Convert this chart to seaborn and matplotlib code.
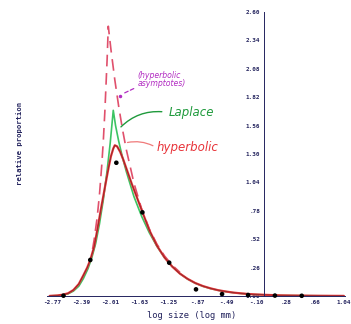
import matplotlib
matplotlib.use("Agg")
import matplotlib.pyplot as plt
from matplotlib.ticker import MultipleLocator
import pandas as pd
import seaborn as sns

# Observed relative proportions per log-size class
obs_x = [-2.62, -2.27, -1.93, -1.59, -1.24, -0.89, -0.55, -0.21, 0.14, 0.49]
obs_y = [0.003, 0.33, 1.22, 0.766, 0.305, 0.061, 0.018, 0.009, 0.004, 0.002]

# Fitted hyperbolic density
hyp_x = [-2.80, -2.70, -2.63, -2.56, -2.49, -2.42, -2.36, -2.31, -2.27, -2.22,
         -2.18, -2.13, -2.07, -2.03, -2.00, -1.97, -1.95, -1.92, -1.88, -1.84,
         -1.78, -1.73, -1.66, -1.59, -1.50, -1.40, -1.30, -1.20, -1.10, -1.00,
         -0.90, -0.80, -0.70, -0.60, -0.50, -0.40, -0.30, -0.20, -0.10, 0.00,
         0.20, 0.40, 0.70, 1.04]
hyp_y = [0.001, 0.005, 0.012, 0.025, 0.055, 0.11, 0.19, 0.26, 0.33, 0.45,
         0.60, 0.80, 1.03, 1.18, 1.28, 1.35, 1.38, 1.37, 1.32, 1.25,
         1.13, 1.03, 0.90, 0.77, 0.604, 0.461, 0.352, 0.269, 0.205, 0.157,
         0.119, 0.091, 0.070, 0.053, 0.041, 0.031, 0.024, 0.018, 0.014, 0.011,
         0.006, 0.004, 0.002, 0.001]

# Fitted Laplace density
lap_x = [-2.80, -2.70, -2.63, -2.56, -2.49, -2.42, -2.36, -2.30, -2.25, -2.20,
         -2.15, -2.10, -2.05, -2.01, -1.97, -1.94, -1.90, -1.85, -1.80, -1.70,
         -1.60, -1.50, -1.40, -1.30, -1.20, -1.10, -1.00, -0.90, -0.80, -0.70,
         -0.60, -0.50, -0.40, -0.30, -0.20, 0.00, 0.30, 0.60, 1.04]
lap_y = [0.001, 0.004, 0.009, 0.02, 0.045, 0.09, 0.16, 0.25, 0.35, 0.48,
         0.66, 0.88, 1.15, 1.40, 1.70, 1.56, 1.42, 1.27, 1.14, 0.91,
         0.73, 0.58, 0.455, 0.35, 0.27, 0.205, 0.155, 0.117, 0.089, 0.068,
         0.052, 0.04, 0.03, 0.023, 0.017, 0.01, 0.005, 0.0025, 0.001]

# Asymptotes of the hyperbolic log-density
asy_x = [-2.24, -2.22, -2.18, -2.15, -2.12, -2.10, -2.08, -2.05, -2.035, -2.00,
         -1.95, -1.90, -1.85, -1.80, -1.70, -1.60, -1.50, -1.40, -1.30, -1.20,
         -1.10]
asy_y = [0.43, 0.513, 0.72, 0.929, 1.20, 1.42, 1.685, 2.17, 2.47, 2.255,
         1.98, 1.74, 1.527, 1.341, 1.034, 0.797, 0.615, 0.474, 0.366, 0.282,
         0.217]

x_ticks = [-2.77, -2.39, -2.01, -1.63, -1.25, -0.87, -0.49, -0.10, 0.28, 0.66, 1.04]
x_tick_labels = ["-2.77", "-2.39", "-2.01", "-1.63", "-1.25", "-.87", "-.49",
                 "-.10", ".28", ".66", "1.04"]
y_ticks = [0.0, 0.26, 0.52, 0.78, 1.04, 1.30, 1.56, 1.82, 2.08, 2.34, 2.60]
y_tick_labels = ["0.00", ".26", ".52", ".78", "1.04", "1.30", "1.56", "1.82",
                 "2.08", "2.34", "2.60"]

sns.set_theme(style="white")
plt.rcParams["font.family"] = ["DejaVu Sans"]

NAVY = "#24245e"
RED = "#e8343a"
GREEN = "#3cc463"
DGREEN = "#1f9a3c"
PINK = "#e0506c"
PURPLE = "#b22cc2"

fig = plt.figure(figsize=(3.51, 3.24), dpi=100)
ax = fig.add_axes([0.135, 0.0864, 0.849, 0.8765])

hyp = pd.DataFrame({"x": hyp_x, "y": hyp_y})
lap = pd.DataFrame({"x": lap_x, "y": lap_y})
asy = pd.DataFrame({"x": asy_x, "y": asy_y})
obs = pd.DataFrame({"x": obs_x, "y": obs_y})

sns.lineplot(data=asy, x="x", y="y", ax=ax, color=PINK, lw=1.2,
             linestyle=(0, (7, 4)), sort=False, estimator=None)
sns.lineplot(data=lap, x="x", y="y", ax=ax, color=GREEN, lw=1.2,
             sort=False, estimator=None)
sns.lineplot(data=hyp, x="x", y="y", ax=ax, color=RED, lw=1.6,
             sort=False, estimator=None)
sns.lineplot(data=hyp, x="x", y="y", ax=ax, color="#5a2222", lw=0.45,
             alpha=0.8, sort=False, estimator=None)
sns.scatterplot(data=obs, x="x", y="y", ax=ax, color="black", s=11,
                edgecolor="none", zorder=5, clip_on=False)

ax.set_xlim(-2.83, 1.06)
ax.set_ylim(0, 2.60)
ax.spines["left"].set_position(("data", 0))
ax.spines["top"].set_visible(False)
ax.spines["right"].set_visible(False)
for sp in ("left", "bottom"):
    ax.spines[sp].set_color(NAVY)
    ax.spines[sp].set_linewidth(0.7)

ax.set_xticks(x_ticks)
ax.set_xticklabels(x_tick_labels)
ax.set_yticks(y_ticks)
ax.set_yticklabels(y_tick_labels)
ax.xaxis.set_minor_locator(MultipleLocator(0.0381))
ax.yaxis.set_minor_locator(MultipleLocator(0.026))
ax.tick_params(which="major", length=2.5, width=0.6, direction="inout",
               colors=NAVY, labelsize=4.3, pad=1.5)
ax.tick_params(which="minor", length=1.4, width=0.5, direction="inout",
               colors=NAVY)
for lab in ax.get_xticklabels() + ax.get_yticklabels():
    lab.set_fontweight("bold")
    lab.set_family("DejaVu Sans Mono")
ax.set_xlabel("")
ax.set_ylabel("")
ax.grid(False)

fig.text(192 / 351, 1 - 315 / 324, "log size (log mm)", ha="center", va="center",
         fontsize=6.3, family="DejaVu Sans Mono", color=NAVY)
fig.text(20 / 351, 1 - 143 / 324, "relative proportion", ha="center", va="center",
         rotation=90, fontsize=5.2, family="DejaVu Sans Mono", color=NAVY,
         fontweight="bold")

# Hand-written labels with leader lines
ax.annotate("", xy=(-1.895, 1.53), xytext=(-1.30, 1.685),
            arrowprops=dict(arrowstyle="-", color=DGREEN, lw=1.0,
                            connectionstyle="arc3,rad=0.25"))
ax.text(-1.25, 1.676, "Laplace", color=DGREEN, fontsize=8.5, style="italic",
        va="center", ha="left")

ax.annotate("", xy=(-1.82, 1.40), xytext=(-1.42, 1.364),
            arrowprops=dict(arrowstyle="-", color="#f07a7a", lw=0.9,
                            connectionstyle="arc3,rad=0.2"))
ax.text(-1.40, 1.36, "hyperbolic", color=RED, fontsize=8.5, style="italic",
        va="center", ha="left")

ax.annotate("", xy=(-1.88, 1.84), xytext=(-1.67, 1.91),
            arrowprops=dict(arrowstyle="-", color=PURPLE, lw=0.9,
                            linestyle=(0, (3, 2))))
ax.plot([-1.885], [1.835], marker="o", ms=1.5, color=PURPLE)
ax.text(-1.65, 1.98, "(hyperbolic\nasymptotes)", color=PURPLE, fontsize=5.6,
        style="italic", va="center", ha="left", linespacing=0.9)

fig.savefig("out.png", dpi=100, facecolor="white")
